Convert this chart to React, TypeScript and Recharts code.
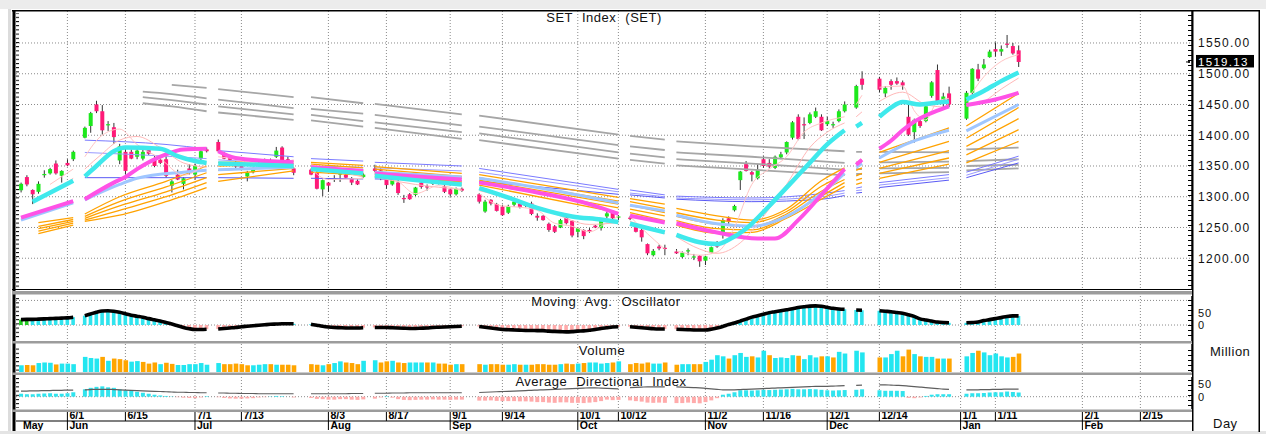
import React from "react";
import { ComposedChart, Bar, Line, XAxis, YAxis, CartesianGrid, Cell } from "recharts";

// ---------------- DATA ----------------
const tradingDates = [
  "5/20","5/21","5/22","5/25","5/26","5/27","5/28","5/29",
  "6/1","6/2","6/4","6/5","6/8","6/9","6/10","6/11","6/12","6/15","6/16","6/17","6/18","6/19","6/22","6/23","6/24","6/25","6/26","6/29","6/30",
  "7/1","7/2","7/3","7/7","7/8","7/9","7/10","7/13","7/14","7/15","7/16","7/17","7/20","7/21","7/22","7/23","7/24","7/29","7/30","7/31",
  "8/3","8/4","8/5","8/6","8/7","8/10","8/11","8/13","8/14","8/17","8/18","8/19","8/20","8/21","8/24","8/25","8/26","8/27","8/28","8/31",
  "9/1","9/2","9/3","9/8","9/9","9/10","9/11","9/14","9/15","9/16","9/17","9/18","9/21","9/22","9/23","9/24","9/25","9/28","9/29","9/30",
  "10/1","10/2","10/5","10/6","10/7","10/8","10/9","10/12","10/14","10/15","10/16","10/19","10/20","10/21","10/22","10/26","10/27","10/28","10/29","10/30",
  "11/2","11/3","11/4","11/5","11/6","11/9","11/10","11/11","11/12","11/13","11/16","11/17","11/18","11/19","11/20","11/23","11/24","11/25","11/26","11/27","11/30",
  "12/1","12/2","12/3","12/4","12/8","12/9","12/14","12/15","12/16","12/17","12/18","12/21","12/22","12/23","12/24","12/25","12/28","12/29","12/30",
  "1/4","1/5","1/6","1/7","1/8","1/11","1/12","1/13","1/14","1/15",
];

const opens = [
  1310.5,1332,1311,1308,1335,1338,1354,1334,
  1355,1361,1396,1415,1450,1439,1417,1413,1359,1373,1373,1365,1362,1376,1361,1360,1361,1318,1336,1321,1346,
  1336,1362,1377,1389,1369,1365,1355,1354,1333,1340,1350,1356,1358,1365,1380,1361,1346,1344,1340,1312,
  1323,1329,1336,1336,1330,1326,1332,1346,1343,1328,1320,1323,1298,1304,1303,1323,1317,1321,1326,1317,
  1312,1304,1313,1304,1276,1295,1288,1284,1274,1287,1289,1286,1289,1269,1269,1256,1252,1250,1266,1261,
  1243,1246,1246,1253,1249,1268,1277,1266,1266,1254,1246,1223,1205,1219,1217,1211,1202,1212,1202,1204,
  1196,1209,1225,1238,1265,1278,1327,1353,1340,1330,1361,1355,1347,1364,1372,1396,1430,1418,1420,1430,1430,
  1418,1417,1423,1439,1445,1492,1492,1468,1488,1488,1486,1430,1405,1423,1423,1464,1506,1455,1468,
  1427,1469,1507,1509,1527,1540,1536,1549,1545,1538,
];
const highs = [
  1323,1335,1312,1325,1343,1347,1359,1343,
  1361,1375,1414,1438,1456,1449,1423,1420,1386,1380,1377,1379,1377,1379,1366,1364,1366,1327,1344,1332,1353,
  1354,1377,1380,1393,1373,1368,1358,1356,1342,1348,1356,1362,1362,1381,1382,1365,1348,1346,1342,1328,
  1324,1335,1339,1338,1332,1328,1338,1352,1346,1331,1329,1327,1303,1306,1316,1324,1320,1328,1328,1324,
  1313,1315,1315,1306,1295,1296,1290,1287,1287,1295,1292,1289,1292,1273,1270,1258,1254,1264,1268,1262,
  1250,1247,1249,1254,1263,1276,1278,1270,1269,1256,1249,1224,1215,1222,1222,1215,1211,1216,1207,1205,
  1204,1219,1228,1265,1268,1287,1342,1358,1342,1353,1366,1361,1367,1373,1390,1423,1434,1429,1437,1445,1434,
  1430,1422,1442,1455,1482,1504,1495,1480,1491,1494,1489,1454,1427,1428,1450,1488,1515,1469,1479,
  1472,1509,1516,1524,1539,1551,1546,1563,1550,1546,
];
const lows = [
  1307,1317,1288,1305,1331,1336,1336,1323,
  1350,1358,1395,1404,1436,1401,1407,1386,1353,1336,1361,1361,1359,1368,1348,1353,1331,1307,1327,1312,1336,
  1328,1358,1372,1373,1361,1358,1346,1344,1325,1338,1346,1352,1355,1363,1358,1356,1335,1335,1312,1301,
  1308,1324,1324,1330,1319,1319,1331,1340,1327,1313,1318,1303,1290,1295,1301,1313,1310,1319,1320,1306,
  1300,1302,1308,1289,1274,1286,1276,1269,1272,1284,1281,1283,1270,1261,1261,1243,1241,1249,1255,1234,
  1234,1231,1241,1249,1245,1265,1262,1262,1262,1242,1227,1205,1203,1213,1205,1207,1200,1205,1197,1186,
  1189,1208,1217,1232,1254,1276,1311,1341,1325,1328,1347,1346,1345,1361,1369,1393,1392,1394,1418,1428,1407,
  1415,1412,1421,1437,1443,1474,1470,1462,1474,1482,1474,1399,1388,1412,1421,1461,1450,1445,1446,
  1425,1466,1488,1507,1526,1528,1529,1542,1531,1511,
];
const closes = [
  1321,1320,1304,1321,1337,1345,1338,1342,
  1351,1373,1412,1436,1439,1408,1418,1397,1382,1342,1362,1375,1373,1370,1350,1355,1334,1325,1328,1330,1339,
  1350,1374,1374,1374,1362,1360,1349,1346,1339,1345,1354,1358,1356,1375,1359,1358,1339,1336,1313,1327,
  1318,1330,1338,1331,1323,1320,1336,1342,1339,1319,1327,1306,1296,1296,1315,1316,1315,1326,1321,1308,
  1304,1313,1310,1292,1292,1289,1277,1270,1285,1292,1283,1287,1272,1266,1262,1246,1243,1262,1257,1237,
  1249,1236,1243,1250,1261,1273,1265,1268,1264,1243,1234,1208,1212,1216,1215,1208,1209,1213,1203,1195,
  1203,1218,1219,1262,1260,1285,1341,1342,1336,1344,1350,1349,1365,1369,1389,1421,1394,1416,1434,1439,1408,
  1423,1418,1439,1450,1480,1482,1474,1477,1482,1484,1481,1401,1425,1415,1447,1486,1455,1463,1450,
  1469,1508,1492,1515,1536,1536,1540,1547,1533,1519.13,
];
// volume, billion shares (scale of the panel)
const volumes = [
  12,12.5,12,16,17,16.5,13.5,15,
  15,14,27,25,24,27,20,24,23,21,18.5,19.5,18,15,17,14,16.5,14.5,12.5,12.5,14,
  14,16,13,16,14,14,15,14,12,12,13,14,14,13,13,13,12,14,13,12,
  14,16,19,17,16,14,20,21,17,19,20,17,16,17,17,17,17,17,15,15,
  13,14,14,14,13,14,14,13,13,14,13,13,13,14,14,13,13,14,15,14,
  15,16,17,17,15,16,17,19,14,16,15,17,15,15,17,13,14,14,14,14,
  18,22,30,28,24,30,34,27,28,26,38,30,25,26,25,30,29,23,30,26,28,
  28,26,36,33,38,35,26,26,32,38,28,40,32,28,27,27,24,24,24,
  28,34,38,35,30,33,28,26,27,33,
];
const mao = [
  22,23,23,24,25,26,27,28,
  29,32,38,45,52,57,58,56,52,46,40,36,32,26,21,16,10,4,-3,-10,-15,
  -18,-18,-17,-16,-14,-12,-10,-7,-5,-3,-1,1,3,4,5,5,5,3,-1,-5,
  -8,-10,-11,-12,-12,-12,-11,-10,-10,-10,-11,-12,-13,-14,-14,-13,-12,-10,-9,-8,
  -7,-6,-5,-6,-9,-12,-15,-18,-19,-20,-21,-22,-22,-23,-23,-25,-26,-27,-28,-27,
  -25,-24,-21,-18,-14,-11,-8,-7,-7,-9,-11,-13,-15,-16,-16,-17,-18,-19,-20,-20,
  -20,-17,-12,-6,2,8,16,24,32,38,44,50,54,58,62,66,71,74,77,78,76,
  72,68,65,64,61,60,58,56,54,51,48,42,35,25,20,16,12,10,9,
  9,10,12,18,22,26,30,35,37,37,
];
const diDiff = [
  12,10,10,12,13,14,12,12,
  14,18,30,36,40,42,38,36,30,26,24,20,16,12,8,5,3,1,-2,-4,-5,
  -6,-3,2,-2,-5,-7,-8,-8,-7,-6,-3,-2,1,3,2,0,-3,-5,-9,-10,
  -12,-12,-10,-10,-12,-13,-11,-8,-3,2,-4,-10,-13,-14,-13,-12,-12,-11,-12,-12,
  -13,-12,-12,-16,-16,-15,-17,-18,-18,-18,-19,-19,-20,-22,-22,-24,-25,-23,-23,-25,
  -25,-26,-24,-22,-18,-12,-14,-13,-15,-18,-20,-24,-25,-24,-25,-26,-26,-24,-26,-27,
  -22,-15,-6,8,12,18,26,26,25,26,28,27,28,29,30,32,30,30,31,30,28,
  26,25,26,27,28,30,26,24,24,24,23,-5,-6,-3,3,8,10,10,10,
  12,14,14,15,17,18,18,21,19,17,
];
const adx = [
  23,23,24,24,25,25,26,26,
  27,27,28,29,30,30,30,29,28,27,26,25,24,23,22,21,20,19,18,18,17,
  17,16,16,15,15,14,14,13,13,13,12,12,12,12,12,12,12,12,12,12,
  12,12,12,12,13,13,13,14,14,14,15,15,15,16,16,16,16,16,16,16,
  16,16,16,17,18,19,20,21,22,23,24,25,26,27,28,29,30,31,32,33,
  34,35,36,36,35,34,33,32,37,38,39,40,40,40,40,40,39,38,37,36,
  34,32,30,28,28,28,29,30,31,32,33,34,35,36,37,38,39,40,41,42,42,
  42,43,44,45,46,47,48,48,47,46,45,43,41,39,37,35,33,31,30,
  28,28,28,29,29,30,30,31,31,31,
];

// moving-average style overlays, read at anchor dates
const cyanDates = ["5/22","6/2","6/4","6/8","6/11","6/15","6/23","6/26","7/1","7/3","7/7","7/16","7/24","7/29","8/11","8/13","8/24","9/3","9/8","9/14","9/22","9/30","10/7","10/12","10/14","10/22","10/26","10/30","11/4","11/6","11/11","11/17","11/23","11/26","12/1","12/4","12/8","12/9","12/14","12/16","12/18","12/23","12/25","12/30","1/4","1/7","1/12","1/15"];
const cyanValues = [1292,1326,1333,1350,1374,1380,1378,1366,1358,1355,1354,1352,1350,1345,1338,1334,1327,1320,1314,1302,1282,1268,1263,1259,1256,1242,1238,1226,1223,1230,1248,1285,1325,1355,1385,1408,1414,1420,1430,1445,1454,1450,1452,1455,1458,1472,1488,1502];

const magentaDates = ["5/20","6/2","6/4","6/11","6/15","6/17","6/24","6/29","7/3","7/7","7/10","7/24","7/29","8/11","8/13","8/24","9/3","9/8","9/22","10/5","10/12","10/14","10/22","10/26","11/4","11/13","11/18","11/24","11/30","12/4","12/8","12/9","12/14","12/16","12/18","12/22","12/24","12/28","12/30","1/4","1/11","1/15"];
const magentaValues = [1266,1293,1296,1323,1332,1345,1369,1377,1378,1374,1363,1356,1348,1342,1338,1333,1328,1323,1307,1288,1272,1269,1258,1257,1242,1232,1232,1262,1303,1345,1352,1360,1378,1391,1408,1422,1432,1440,1447,1449,1458,1469];

const lightBlueDates = ["5/20","6/2","6/4","6/12","6/17","6/29","7/3","7/7","7/24","7/29","8/11","8/13","9/3","9/8","9/22","10/12","10/14","10/22","10/26","11/4","11/12","11/20","11/30","12/4","12/8","12/9","12/14","12/18","12/30","1/4","1/15"];
const lightBlueValues = [1262,1290,1295,1320,1330,1340,1343,1344,1348,1346,1343,1340,1332,1330,1315,1290,1286,1277,1270,1256,1252,1268,1305,1338,1348,1354,1363,1383,1408,1407,1450];

const orangeDates = ["5/25","6/2","6/4","6/12","6/24","7/3","7/7","7/24","7/29","8/11","8/13","9/3","9/8","10/12","10/14","10/22","10/26","11/4","11/12","11/20","11/30","12/4","12/8","12/9","12/14","12/30","1/4","1/15"];
const orange1 = [1258,1266,1272,1300,1325,1350,1356,1358,1356,1351,1349,1338,1336,1299,1297,1288,1281,1269,1262,1280,1326,1347,1355,1360,1372,1412,1415,1468];
const orange2 = [1252,1263,1268,1292,1316,1339,1350,1354,1353,1347,1345,1333,1331,1293,1292,1281,1274,1262,1258,1276,1317,1336,1343,1347,1356,1390,1395,1445];
const orange3 = [1248,1260,1265,1285,1308,1331,1343,1350,1348,1343,1341,1330,1327,1288,1286,1274,1268,1255,1252,1272,1309,1328,1334,1338,1346,1375,1382,1427];
const orange4 = [1244,1257,1262,1278,1300,1323,1336,1346,1344,1339,1337,1324,1323,1282,1280,1269,1261,1248,1246,1268,1301,1323,1327,1330,1338,1363,1368,1409];
const orange5 = [1240,1254,1260,1270,1292,1315,1325,1342,1340,1335,1333,1319,1319,1274,1274,1261,1254,1241,1242,1265,1296,1317,1320,1323,1330,1353,1355,1390];

const blueDates = ["6/4","6/24","7/3","7/7","7/24","7/29","8/11","8/13","9/3","9/8","10/12","10/14","10/22","10/26","11/12","11/30","12/4","12/8","12/9","12/14","12/30","1/4","1/15"];
const blue1 = [1392,1385,1378,1375,1365,1362,1358,1356,1350,1346,1312,1311,1303,1301,1298,1305,1310,1314,1316,1323,1336,1340,1366];
const blue2 = [1372,1366,1362,1360,1353,1350,1348,1347,1342,1340,1308,1306,1300,1298,1295,1300,1306,1310,1311,1319,1331,1335,1361];
const blue3 = [1331,1331,1331,1331,1330,1330,1329,1329,1326,1325,1304,1303,1298,1296,1292,1296,1302,1306,1307,1315,1327,1331,1355];

const grayDates = ["6/18","6/25","7/3","7/7","7/24","7/29","8/11","8/13","9/3","9/8","10/12","10/14","10/22","10/26","11/12","12/4","12/8","12/9","12/14","12/30","1/4","1/15"];
const gray1 = [null,1482,1477,1475,1462,1462,1452,1451,1434,1432,1401,1399,1393,1390,1382,1374,1373,1373,1373,1372,1377,1380];
const gray2 = [1471,1467,1460,1458,1444,1443,1435,1433,1416,1414,1384,1382,1376,1372,1365,1355,1356,1356,1356,1357,1358,1361];
const gray3 = [1462,1457,1450,1447,1434,1433,1423,1421,1405,1403,1372,1370,1364,1361,1354,1344,1345,1345,1346,1347,1350,1352];
const gray4 = [1452,1447,1439,1437,1425,1424,1414,1412,1394,1392,1362,1360,1354,1351,1344,1335,1337,1337,1338,1340,1343,1346];

const pinkFastDates = ["5/27","6/2","6/4","6/9","6/12","6/17","6/23","6/29","7/3","7/7","7/13","7/17","7/24","7/29","8/3","8/11","8/13","8/19","8/24","8/28","9/3","9/8","9/14","9/17","9/22","9/25","9/30","10/5","10/8","10/12","10/14","10/19","10/22","10/26","10/30","11/4","11/9","11/12","11/17","11/20","11/25","11/30","12/4","12/8","12/9","12/14","12/18","12/22","12/24","12/28","12/30","1/4","1/7","1/12","1/15"];
const pinkFastValues = [1320,1345,1365,1400,1410,1385,1362,1335,1355,1365,1360,1352,1360,1345,1328,1330,1335,1325,1305,1318,1310,1305,1285,1283,1278,1257,1252,1243,1258,1268,1268,1240,1215,1212,1205,1210,1250,1320,1345,1365,1405,1420,1430,1450,1465,1478,1480,1440,1425,1455,1460,1455,1495,1520,1531];
const pinkSlowDates = ["5/27","6/2","6/4","6/9","6/12","6/17","6/23","6/29","7/3","7/7","7/15","7/24","7/29","8/11","8/13","8/24","9/3","9/8","9/17","9/25","10/5","10/12","10/14","10/22","10/26","10/30","11/4","11/10","11/16","11/20","11/26","12/1","12/4","12/8","12/9","12/14","12/18","12/24","12/30","1/4","1/7","1/12","1/15"];
const pinkSlowValues = [1305,1330,1345,1370,1392,1398,1380,1355,1348,1350,1358,1355,1352,1332,1332,1320,1312,1310,1292,1272,1255,1258,1260,1240,1235,1215,1208,1225,1268,1320,1380,1405,1420,1430,1438,1455,1470,1450,1445,1448,1455,1475,1493];

const priceTicks = [1200, 1250, 1300, 1350, 1400, 1450, 1500, 1550];
const LAST_CLOSE = 1519.13;
const axisTickDates = ["5/20","6/1","6/15","7/1","7/13","8/3","8/17","9/1","9/14","10/1","10/12","11/2","11/16","12/1","12/14","1/1","1/11","2/1","2/15"];
const monthNames = { "5/20": "May", "6/1": "Jun", "7/1": "Jul", "8/3": "Aug", "9/1": "Sep", "10/1": "Oct", "11/2": "Nov", "12/1": "Dec", "1/1": "Jan", "2/1": "Feb" };
const maoGreenDates = ["5/20", "5/21"];

// ---------------- HELPERS ----------------
const DAY = 86400000;
const START = Date.UTC(2020, 4, 20);
const toUTC = (s) => { const [m, d] = s.split("/").map(Number); return Date.UTC(m >= 5 ? 2020 : 2021, m - 1, d); };
const slotCache = new Map();
function slotOf(s) {
  if (slotCache.has(s)) return slotCache.get(s);
  const target = toUTC(s);
  let n = 0;
  for (let t = START + DAY; t <= target; t += DAY) {
    const wd = new Date(t).getUTCDay();
    if (wd !== 0 && wd !== 6) n++;
  }
  slotCache.set(s, n);
  return n;
}
const tradeSlots = tradingDates.map(slotOf);
const LAST_SLOT = tradeSlots[tradeSlots.length - 1];
const slotToIdx = new Map(tradeSlots.map((s, i) => [s, i]));
const holidaySlots = [];
for (let s = 0; s <= LAST_SLOT; s++) if (!slotToIdx.has(s)) holidaySlots.push(s);

const rows = tradingDates.map((d, i) => ({
  x: tradeSlots[i], date: d, o: opens[i], h: highs[i], l: lows[i], c: closes[i],
  v: volumes[i], mao: mao[i], di: diDiff[i], adx: adx[i],
  up: i === 0 ? true : closes[i] >= closes[i - 1],
}));

function dailyLine(vals) {
  const out = [];
  for (let s = 0; s <= LAST_SLOT; s++) {
    const i = slotToIdx.get(s);
    out.push({ x: s, y: i == null ? null : vals[i] });
  }
  return out;
}
function anchorLine(dates, vals) {
  const pts = [];
  let prev = null;
  dates.forEach((d, i) => {
    if (vals[i] == null) return;
    const s = slotOf(d);
    if (prev != null) {
      const hol = holidaySlots.find((h) => h > prev && h < s);
      if (hol !== undefined) pts.push({ x: hol, y: null });
    }
    pts.push({ x: s, y: vals[i] });
    prev = s;
  });
  return pts;
}

const mainLines = [
  ...[gray1, gray2, gray3, gray4].map((g) => ({ data: anchorLine(grayDates, g), color: "#a6a6a6", w: 1.8 })),
  { data: anchorLine(blueDates, blue1), color: "#7a7aff", w: 1 },
  { data: anchorLine(blueDates, blue2), color: "#9a9aff", w: 1 },
  { data: anchorLine(blueDates, blue3), color: "#5a5af5", w: 1 },
  ...[orange1, orange2, orange3, orange4, orange5].map((o) => ({ data: anchorLine(orangeDates, o), color: "#ffa200", w: 1.3 })),
  { data: anchorLine(lightBlueDates, lightBlueValues), color: "#9fc6ff", w: 3 },
  { data: anchorLine(pinkSlowDates, pinkSlowValues), color: "#ffb8b8", w: 1 },
  { data: anchorLine(pinkFastDates, pinkFastValues), color: "#ffc4c4", w: 1 },
  { data: anchorLine(magentaDates, magentaValues), color: "#ff52e6", w: 4 },
  { data: anchorLine(cyanDates, cyanValues), color: "#3fe9ec", w: 4.5 },
];

const X_DOMAIN = [-0.862, 201.9];
const gridSlots = axisTickDates.slice(1).map(slotOf);
const axisTickSlots = axisTickDates.map(slotOf);
const tickInfo = new Map(axisTickDates.map((d) => [slotOf(d), { day: d === "5/20" ? "" : d, month: monthNames[d] || "" }]));

const FONT = "'Liberation Sans', Arial, sans-serif";
const GREEN = "#1de81d";
const PINK = "#ff1a78";
const CYAN = "#30e4ee";
const SALMON = "#ffabab";

// ---------------- RENDER PIECES ----------------
const Candle = (props) => {
  const { x, y, width, height, payload } = props;
  if (!payload || height == null || isNaN(height)) return <g />;
  const { o, h, l, c } = payload;
  const ratio = height / (h - l);
  const yOf = (v) => y + (h - v) * ratio;
  const top = yOf(Math.max(o, c));
  const bot = yOf(Math.min(o, c));
  const cx = x + width / 2;
  return (
    <g>
      <line x1={cx} x2={cx} y1={y} y2={y + height} stroke="#333" strokeWidth={1} />
      <rect x={x} y={top} width={width} height={Math.max(1.2, bot - top)} fill={c >= o ? GREEN : PINK} />
    </g>
  );
};

const PriceTick = (props) => {
  const { x, y, payload } = props;
  const v = payload.value;
  if (Math.abs(v - LAST_CLOSE) < 0.001) {
    return (
      <g>
        <line x1={x - 12} x2={x - 8} y1={y} y2={y} stroke="#000" />
        <circle cx={x - 9} cy={y} r={1} fill="#000" />
        <rect x={x - 2} y={y - 7} width={58} height={12.5} fill="#000" />
        <text x={x} y={y + 3.6} fill="#fff" fontSize={11.5} fontFamily={FONT} letterSpacing={1.3}>{v.toFixed(2)}</text>
      </g>
    );
  }
  return <text x={x} y={y + 4.3} fill="#111" fontSize={12} fontFamily={FONT} letterSpacing={1.3}>{v.toFixed(2)}</text>;
};

const SmallTick = (props) => {
  const { x, y, payload } = props;
  return <text x={x} y={y + 4} fill="#111" fontSize={11} fontFamily={FONT} letterSpacing={1}>{String(payload.value)}</text>;
};

const DateTick = (props) => {
  const { x, y, payload } = props;
  const info = tickInfo.get(payload.value) || { day: "", month: "" };
  return (
    <g>
      {info.day && <line x1={x} x2={x} y1={y + 2} y2={y + 12} stroke="#000" strokeWidth={1} />}
      {info.day && <text x={x + 2} y={y + 10} fontSize={10.5} fontWeight="bold" fontFamily={FONT} fill="#000">{info.day}</text>}
      {info.month && info.day && <line x1={x} x2={x} y1={y + 12} y2={y + 21} stroke="#000" strokeWidth={1} />}
      {info.month && <text x={x + 2} y={y + 20} fontSize={10.5} fontWeight="bold" fontFamily={FONT} fill="#000">{info.month}</text>}
    </g>
  );
};

const gridProps = { stroke: "#8a8a8a", strokeDasharray: "1 2", strokeWidth: 1 };

export default function App() {
  const maoLine = dailyLine(mao);
  const adxLine = dailyLine(adx);
  return (
    <div style={{ position: "absolute", left: 0, top: 0, width: 1266, height: 434, background: "#fff", overflow: "hidden" }}>
      {/* main price panel */}
      <div style={{ position: "absolute", left: 0, top: 0 }}>
        <ComposedChart width={1266} height={300} data={rows} margin={{ top: 11, right: 0, bottom: 11, left: 16 }}>
          <CartesianGrid {...gridProps} horizontalValues={priceTicks} verticalValues={gridSlots} />
          <XAxis type="number" dataKey="x" domain={X_DOMAIN} allowDataOverflow hide />
          <YAxis orientation="right" domain={[1150, 1602]} allowDataOverflow ticks={[...priceTicks, LAST_CLOSE]} interval={0}
            width={74} tick={<PriceTick />} tickLine={false} tickSize={4} tickMargin={2} axisLine={{ stroke: "#000", strokeWidth: 1.5 }} />
          {mainLines.map((ln, i) => (
            <Line key={i} data={ln.data} dataKey="y" stroke={ln.color} strokeWidth={ln.w} type="monotone" dot={false}
              activeDot={false} connectNulls={false} isAnimationActive={false} />
          ))}
          <Bar dataKey={(d) => [d.l, d.h]} barSize={4} shape={<Candle />} isAnimationActive={false} />
        </ComposedChart>
      </div>

      {/* moving average oscillator */}
      <div style={{ position: "absolute", left: 0, top: 290 }}>
        <ComposedChart width={1266} height={56} data={rows} margin={{ top: 6, right: 0, bottom: 5, left: 16 }}>
          <CartesianGrid {...gridProps} horizontalValues={[0, 100]} verticalValues={gridSlots} />
          <XAxis type="number" dataKey="x" domain={X_DOMAIN} allowDataOverflow hide />
          <YAxis orientation="right" domain={[-65, 118]} allowDataOverflow ticks={[0, 50]} interval={0} width={74}
            tick={<SmallTick />} tickLine={false} tickSize={4} tickMargin={2} axisLine={{ stroke: "#000", strokeWidth: 1.5 }} />
          <Bar dataKey="mao" barSize={3.6} isAnimationActive={false}>
            {rows.map((r, i) => (
              <Cell key={i} fill={maoGreenDates.includes(r.date) ? "#22cc22" : r.mao >= 0 ? CYAN : SALMON} />
            ))}
          </Bar>
          <Line data={maoLine} dataKey="y" stroke="#000" strokeWidth={3.6} type="monotone" dot={false} activeDot={false}
            connectNulls={false} isAnimationActive={false} />
        </ComposedChart>
      </div>

      {/* volume */}
      <div style={{ position: "absolute", left: 0, top: 343 }}>
        <ComposedChart width={1266} height={30} data={rows} margin={{ top: 1, right: 0, bottom: 1, left: 16 }}>
          <CartesianGrid {...gridProps} horizontal={false} verticalValues={gridSlots} />
          <XAxis type="number" dataKey="x" domain={X_DOMAIN} allowDataOverflow hide />
          <YAxis orientation="right" domain={[0, 50]} allowDataOverflow width={74} tick={false} tickLine={false}
            axisLine={{ stroke: "#000", strokeWidth: 1.5 }} />
          <Bar dataKey="v" barSize={4.6} isAnimationActive={false}>
            {rows.map((r, i) => (
              <Cell key={i} fill={r.up ? "#22e6f0" : "#ffa500"} />
            ))}
          </Bar>
        </ComposedChart>
      </div>

      {/* average directional index + date axis */}
      <div style={{ position: "absolute", left: 0, top: 374 }}>
        <ComposedChart width={1266} height={58} data={rows} margin={{ top: 3, right: 0, bottom: 0, left: 16 }}>
          <CartesianGrid {...gridProps} horizontalValues={[0]} verticalValues={gridSlots} />
          <XAxis type="number" dataKey="x" domain={X_DOMAIN} allowDataOverflow ticks={axisTickSlots} interval={0}
            height={23} tick={<DateTick />} tickLine={false} axisLine={false} tickSize={0} tickMargin={0} />
          <YAxis orientation="right" domain={[-50, 80]} allowDataOverflow ticks={[0, 50]} interval={0} width={74}
            tick={<SmallTick />} tickLine={false} tickSize={4} tickMargin={2} axisLine={{ stroke: "#000", strokeWidth: 1.5 }} />
          <Bar dataKey="di" barSize={4} isAnimationActive={false}>
            {rows.map((r, i) => (
              <Cell key={i} fill={r.di >= 0 ? CYAN : SALMON} />
            ))}
          </Bar>
          <Line data={adxLine} dataKey="y" stroke="#5e5e5e" strokeWidth={1.2} type="monotone" dot={false} activeDot={false}
            connectNulls={false} isAnimationActive={false} />
        </ComposedChart>
      </div>

      {/* frame, rulers and titles */}
      <svg width={1266} height={434} style={{ position: "absolute", left: 0, top: 0, pointerEvents: "none" }}>
        <defs>
          <pattern id="rulerL" x="0" y="0" width="4" height="4.2" patternUnits="userSpaceOnUse">
            <rect x="0" y="0" width="4" height="1" fill="#000" />
          </pattern>
          <pattern id="rulerR" x="0" y="0" width="4" height="5" patternUnits="userSpaceOnUse">
            <rect x="0" y="0" width="4" height="1" fill="#000" />
          </pattern>
        </defs>
        <rect x={0} y={0} width={1266} height={9} fill="#ececec" />
        <rect x={8} y={9} width={3} height={425} fill="#dcdcdc" />
        <rect x={0} y={431} width={1266} height={3} fill="#e4e4e4" />
        <rect x={12} y={10} width={1248} height={1.5} fill="#000" />
        <rect x={12.5} y={10} width={3} height={421} fill="#000" />
        <rect x={1258.5} y={10} width={1.5} height={422} fill="#000" />
        {/* rulers */}
        <rect x={16} y={13} width={3} height={275} fill="url(#rulerL)" />
        <rect x={16} y={297} width={3} height={43} fill="url(#rulerL)" />
        <rect x={16} y={346} width={3} height={25} fill="url(#rulerL)" />
        <rect x={16} y={377} width={3} height={31} fill="url(#rulerL)" />
        <rect x={1188} y={13} width={4} height={275} fill="url(#rulerR)" />
        <rect x={1188} y={297} width={4} height={43} fill="url(#rulerR)" />
        <rect x={1188} y={346} width={4} height={25} fill="url(#rulerR)" />
        <rect x={1188} y={377} width={4} height={31} fill="url(#rulerR)" />
        {/* panel separators */}
        <rect x={12} y={289} width={1180} height={1} fill="#000" />
        <rect x={12} y={291} width={1180} height={3.5} fill="#9c9c9c" />
        <rect x={12} y={341} width={1180} height={2.5} fill="#9c9c9c" />
        <rect x={12} y={372.5} width={1180} height={2.5} fill="#9c9c9c" />
        <rect x={12} y={409.5} width={1180} height={2.5} fill="#9c9c9c" />
        <rect x={16} y={420.5} width={1176} height={1} fill="#000" />
        <rect x={1192} y={10} width={1.5} height={421} fill="#000" />
        {/* titles */}
        <g fontFamily={FONT} fill="#111" fontSize={13} letterSpacing={0.5} wordSpacing={5} textAnchor="middle">
          <text x={604} y={21.5}>SET Index (SET)</text>
          <text x={606} y={305.5}>Moving Avg. Oscillator</text>
          <text x={602} y={354.5}>Volume</text>
          <text x={601} y={385.5}>Average Directional Index</text>
        </g>
        <g fontFamily={FONT} fill="#111" fontSize={13} letterSpacing={0.5}>
          <text x={1210} y={356}>Million</text>
          <text x={1213} y={428}>Day</text>
        </g>
      </svg>
    </div>
  );
}
